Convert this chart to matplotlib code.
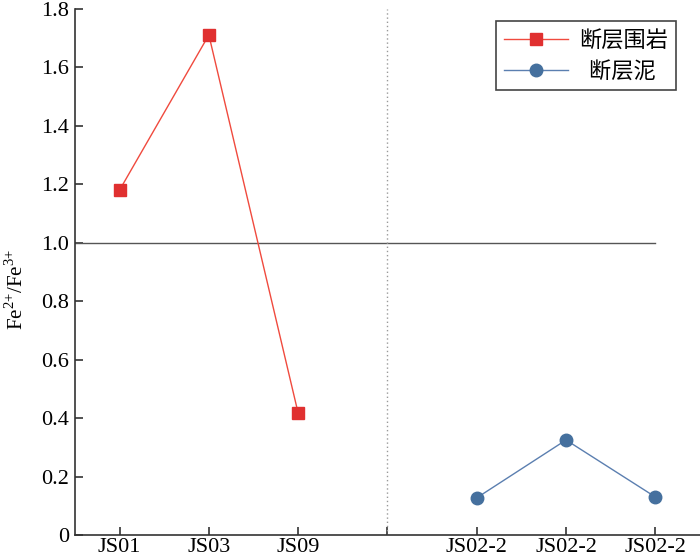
import matplotlib
matplotlib.use('Agg')
import matplotlib.pyplot as plt

plt.rcParams['mathtext.fontset'] = 'custom'
plt.rcParams['mathtext.rm'] = 'Liberation Serif'

# 数据
posicoes = [1, 2, 3, 4, 5, 6, 7]
rotulos = ['JS01', 'JS03', 'JS09', '', 'JS02-2', 'JS02-2', 'JS02-2']

x_rocha = [1, 2, 3]
fe_rocha = [1.18, 1.711, 0.417]   # 断层围岩
x_lama = [5, 6, 7]
fe_lama = [0.127, 0.325, 0.130]   # 断层泥

fig = plt.figure(figsize=(7, 5.59), dpi=100)
ax = fig.add_axes([0.107, 0.043, 0.893, 0.941])

ax.plot(x_rocha, fe_rocha, color='#f04a3e', lw=1, marker='s', ms=9,
        mfc='#e03030', mec='#e03030', label='断层围岩', zorder=3)
ax.plot(x_lama, fe_lama, color='#5b7fb0', lw=1, marker='o', ms=9,
        mfc='#45709e', mec='#45709e', label='  断层泥', zorder=3)

ax.plot([0.5, 7], [1.0, 1.0], color='#555555', lw=1)
ax.axvline(4, color='#999999', lw=1, ls=(0, (1, 2)))

ax.set_xlim(0.5, 7.5)
ax.set_ylim(0, 1.8)
ax.set_xticks(posicoes)
ax.set_xticklabels(rotulos)
ax.set_yticks([0, 0.2, 0.4, 0.6, 0.8, 1.0, 1.2, 1.4, 1.6, 1.8])
ax.set_yticklabels(['0', '0.2', '0.4', '0.6', '0.8', '1.0', '1.2', '1.4', '1.6', '1.8'])

for s in ['top', 'right']:
    ax.spines[s].set_visible(False)
for s in ['left', 'bottom']:
    ax.spines[s].set_color('#333333')
    ax.spines[s].set_linewidth(1.2)

ax.tick_params(direction='in', length=6, width=1.2, color='#333333', pad=4)
ax.tick_params(axis='x', pad=2)
for lb in ax.get_xticklabels() + ax.get_yticklabels():
    lb.set_fontfamily('Liberation Serif')
    lb.set_fontsize(16)

ax.set_ylabel(r'Fe$^{2{+}}$/Fe$^{3{+}}$', fontsize=15, fontfamily='Liberation Serif')
ax.yaxis.set_label_coords(-0.076, 0.466)

leg = ax.legend(loc='upper right', bbox_to_anchor=(0.962, 0.977), fancybox=False,
                prop={'family': ['Noto Sans CJK SC', 'DejaVu Sans'], 'size': 16},
                handlelength=2.9, handletextpad=0.5, borderpad=0.35,
                labelspacing=0.35, borderaxespad=0, framealpha=1)
leg.get_frame().set_edgecolor('#444444')
leg.get_frame().set_linewidth(1.2)

fig.savefig('out.png', dpi=100)
